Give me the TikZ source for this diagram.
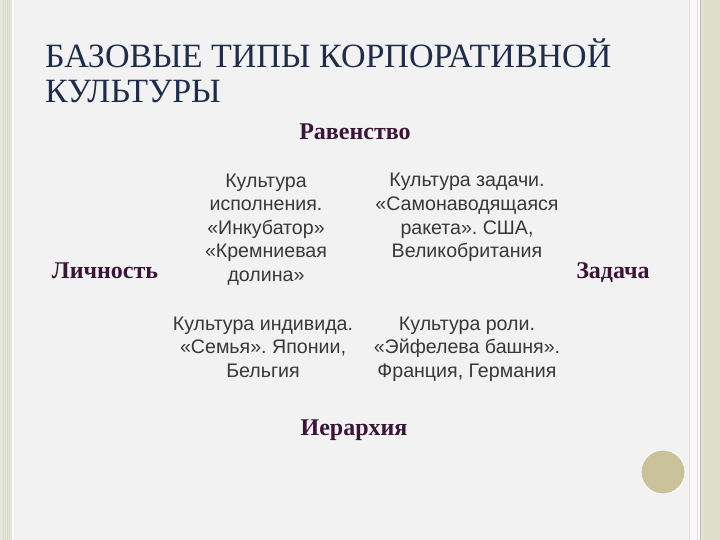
\documentclass[tikz,border=0pt]{standalone}
\usepackage{fontspec}
\setmainfont{Liberation Serif}
\setsansfont{Liberation Sans}
\frenchspacing
\definecolor{bgc}{HTML}{F2F2F2}
\definecolor{titlec}{HTML}{1F2D4A}
\definecolor{labelc}{HTML}{3A1538}
\definecolor{bodyc}{HTML}{383838}
\definecolor{stripeA}{HTML}{D6DCC8}
\definecolor{stripeB}{HTML}{E4E8DA}
\definecolor{beige}{HTML}{DEDDC9}
\definecolor{dotc}{HTML}{C9C29B}
\tikzset{
  titletext/.style={anchor=base west, inner sep=0pt, text=titlec, font=\fontsize{34}{35}\selectfont},
  axislabel/.style={anchor=base, inner sep=0pt, text=labelc, font=\fontsize{24}{26}\selectfont\bfseries},
  celltext/.style={anchor=base, inner sep=0pt, align=center, text=bodyc, font=\sffamily\fontsize{19.6}{23.5}\selectfont\frenchspacing}
}
\begin{document}
\begin{tikzpicture}[x=1pt,y=-1pt]
\useasboundingbox (0,0) rectangle (720,540);
\fill[bgc] (0,0) rectangle (720,540);
% left border
\fill[stripeB] (0,0) rectangle (3,540);
\fill[stripeA] (3,0) rectangle (10,540);
\foreach \x in {4,6,8} \fill[stripeB] (\x,0) rectangle (\x+0.7,540);
\fill[stripeB] (10,0) rectangle (12,540);
\fill[white] (12,0) rectangle (13.5,540);
\fill[violet!8] (13.5,0) rectangle (14.5,540);
% right border
\fill[gray!25] (688.5,0) rectangle (690,540);
\fill[red!3!white] (690,0) rectangle (697,540);
\fill[gray!30] (697,0) rectangle (698,540);
\fill[white] (698,0) rectangle (700,540);
\fill[stripeA!80!black!90] (700,0) rectangle (701,540);
\fill[stripeB] (701,0) rectangle (703,540);
\fill[beige] (703,0) rectangle (720,540);
% dot
\fill[dotc, draw=white, line width=0.8pt] (663,472) circle (22);
% title
\node[titletext] (t1) at (45,68) {БАЗОВЫЕ ТИПЫ КОРПОРАТИВНОЙ};
\node[titletext] (t2) at (45,103) {КУЛЬТУРЫ};
% axis labels
\node[axislabel] (eq) at (355,140) {Равенство};
\node[axislabel] (pers) at (105,278) {Личность};
\node[axislabel] (task) at (613,278) {Задача};
\node[axislabel] (hier) at (354,435) {Иерархия};
% cells (base anchor = baseline of last line)
\node[celltext] (c1) at (266,281) {Культура\\исполнения.\\«Инкубатор»\\«Кремниевая\\долина»};
\node[celltext] (c2) at (467,257.5) {Культура задачи.\\«Самонаводящаяся\\ракета». США,\\Великобритания};
\node[celltext] (c3) at (263,377) {Культура индивида.\\«Семья». Японии,\\Бельгия};
\node[celltext] (c4) at (467,377) {Культура роли.\\«Эйфелева башня».\\Франция, Германия};
\end{tikzpicture}
\end{document}
